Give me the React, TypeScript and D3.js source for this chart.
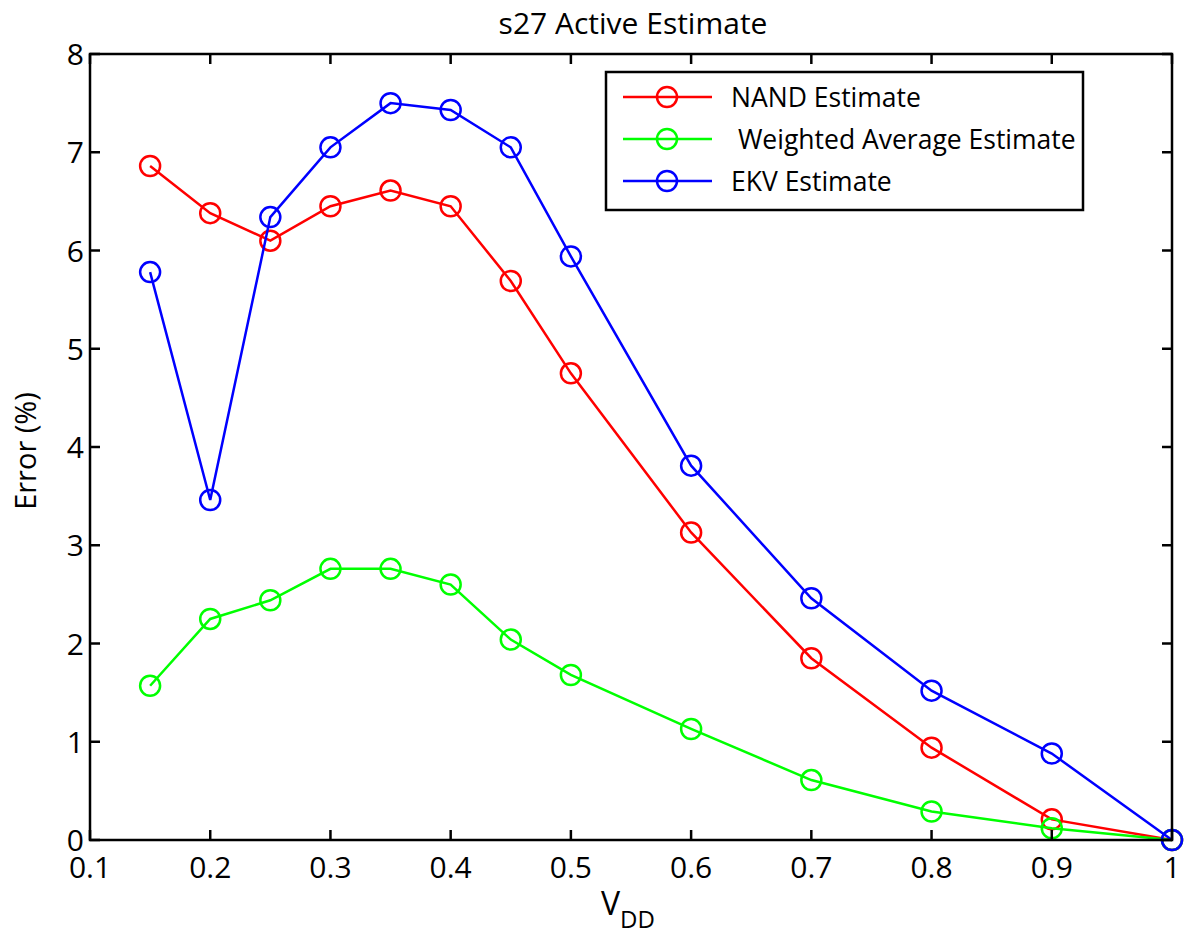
import React from "react";
import * as d3 from "d3";

const vdd = [0.15, 0.2, 0.25, 0.3, 0.35, 0.4, 0.45, 0.5, 0.6, 0.7, 0.8, 0.9, 1.0];
const nandEstimate = [6.86, 6.38, 6.1, 6.45, 6.61, 6.45, 5.69, 4.75, 3.13, 1.85, 0.94, 0.21, 0.0];
const weightedEstimate = [1.57, 2.25, 2.44, 2.76, 2.76, 2.6, 2.04, 1.68, 1.13, 0.61, 0.29, 0.12, 0.0];
const ekvEstimate = [5.78, 3.46, 6.34, 7.05, 7.5, 7.43, 7.05, 5.94, 3.81, 2.46, 1.52, 0.88, 0.0];
const xTicks = [0.1, 0.2, 0.3, 0.4, 0.5, 0.6, 0.7, 0.8, 0.9, 1];
const yTicks = [0, 1, 2, 3, 4, 5, 6, 7, 8];
const seriesNames = ["NAND Estimate", " Weighted Average Estimate", "EKV Estimate"];
const seriesColors = ["#ff0000", "#00ff00", "#0000ff"];

const W = 1190, H = 934;
const L = 90, R = 1172, T = 54, B = 840;
const FONT = "'Open Sans', sans-serif";

export default function App() {
  const x = d3.scaleLinear().domain([0.1, 1]).range([L, R]);
  const y = d3.scaleLinear().domain([0, 8]).range([B, T]);
  const line = d3.line<[number, number]>().x(d => x(d[0])).y(d => y(d[1]));
  const series = [nandEstimate, weightedEstimate, ekvEstimate];
  const tickLen = 10;
  return (
    <svg width={W} height={H} style={{ position: "absolute", left: 0, top: 0 }} fontFamily={FONT}>
      <rect x={0} y={0} width={W} height={H} fill="#fff" />
      <text x={633} y={34} textAnchor="middle" fontSize={30}>s27 Active Estimate</text>
      {series.map((vals, i) => {
        const pts = vdd.map((v, j) => [v, vals[j]] as [number, number]);
        return (
          <g key={i}>
            <path d={line(pts) || ""} fill="none" stroke={seriesColors[i]} strokeWidth={2.5} />
            {pts.map((p, j) => (
              <circle key={j} cx={x(p[0])} cy={y(p[1])} r={10} fill="none" stroke={seriesColors[i]} strokeWidth={2.5} />
            ))}
          </g>
        );
      })}
      <rect x={L} y={T} width={R - L} height={B - T} fill="none" stroke="#000" strokeWidth={2.5} />
      {xTicks.map((t, i) => (
        <g key={"x" + i}>
          <line x1={x(t)} x2={x(t)} y1={B} y2={B - tickLen} stroke="#000" strokeWidth={2.5} />
          <line x1={x(t)} x2={x(t)} y1={T} y2={T + tickLen} stroke="#000" strokeWidth={2.5} />
          <text x={x(t)} y={878} textAnchor="middle" fontSize={30}>{String(t)}</text>
        </g>
      ))}
      {yTicks.map((t, i) => (
        <g key={"y" + i}>
          <line x1={L} x2={L + tickLen} y1={y(t)} y2={y(t)} stroke="#000" strokeWidth={2.5} />
          <line x1={R} x2={R - tickLen} y1={y(t)} y2={y(t)} stroke="#000" strokeWidth={2.5} />
          <text x={L - 6} y={y(t) + 11} textAnchor="end" fontSize={30}>{String(t)}</text>
        </g>
      ))}
      <text transform={`translate(36, 451) rotate(-90)`} textAnchor="middle" fontSize={29}>Error (%)</text>
      <text x={601} y={915} fontSize={32}>
        V<tspan fontSize={24} dy={13}>DD</tspan>
      </text>
      <rect x={606} y={72} width={477} height={138} fill="#fff" stroke="#000" strokeWidth={2.5} />
      {seriesNames.map((n, i) => {
        const ly = 97 + i * 42;
        return (
          <g key={"l" + i}>
            <line x1={623} x2={712} y1={ly} y2={ly} stroke={seriesColors[i]} strokeWidth={2.5} />
            <circle cx={667} cy={ly} r={10} fill="none" stroke={seriesColors[i]} strokeWidth={2.5} />
            <text x={731} y={ly + 10} fontSize={26.5} style={{ whiteSpace: "pre" }}>{n}</text>
          </g>
        );
      })}
    </svg>
  );
}
